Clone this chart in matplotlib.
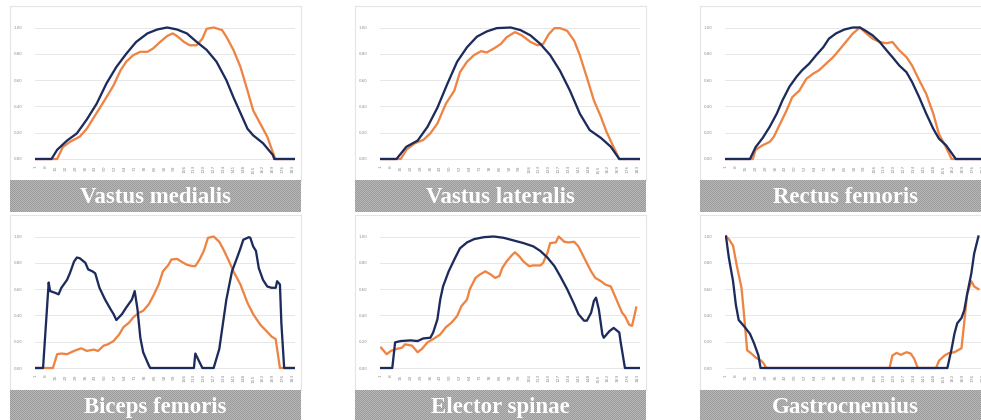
import numpy as np
import matplotlib
matplotlib.use("Agg")
import matplotlib.pyplot as plt

# ---------------------------------------------------------------- data
tick_values = list(range(1, 184, 7))
tick_labels = [str(v) for v in tick_values]
y_ticks = [0.0, 0.2, 0.4, 0.6, 0.8, 1.0]
y_tick_labels = ["0.00", "0.20", "0.40", "0.60", "0.80", "1.00"]

muscles = ["Vastus medialis", "Vastus lateralis", "Rectus femoris",
           "Biceps femoris", "Elector spinae", "Gastrocnemius"]

vm_blue_x = [1, 12, 16, 23, 30, 37, 44, 51, 58, 65, 72, 80, 87, 94, 101, 108, 115, 122, 129, 136, 141, 146, 151, 155, 162, 169, 170, 184]
vm_blue_y = [0, 0, 0.07, 0.14, 0.195, 0.30, 0.42, 0.575, 0.70, 0.80, 0.89, 0.955, 0.985, 1.0, 0.985, 0.955, 0.89, 0.83, 0.74, 0.60, 0.47, 0.35, 0.23, 0.18, 0.12, 0.03, 0, 0]
vm_orange_x = [1, 16, 20, 25, 32, 37, 44, 51, 56, 61, 65, 70, 75, 80, 84, 89, 94, 98, 101, 106, 110, 115, 119, 122, 127, 133, 136, 141, 146, 151, 155, 160, 165, 170, 171, 184]
vm_orange_y = [0, 0, 0.09, 0.13, 0.17, 0.23, 0.35, 0.47, 0.56, 0.675, 0.74, 0.79, 0.815, 0.815, 0.84, 0.89, 0.935, 0.955, 0.935, 0.89, 0.865, 0.865, 0.915, 0.99, 1.0, 0.98, 0.93, 0.83, 0.70, 0.52, 0.37, 0.27, 0.17, 0.02, 0, 0]

vl_blue_x = [1, 12, 19, 27, 34, 41, 48, 55, 62, 69, 76, 83, 93, 100, 107, 114, 121, 128, 135, 142, 149, 157, 164, 170, 184]
vl_blue_y = [0, 0, 0.093, 0.14, 0.245, 0.39, 0.57, 0.74, 0.85, 0.93, 0.97, 0.995, 1.0, 0.98, 0.94, 0.875, 0.79, 0.67, 0.52, 0.345, 0.22, 0.16, 0.093, 0, 0]
vl_orange_x = [1, 15, 19, 25, 31, 36, 41, 47, 53, 57, 62, 67, 72, 76, 81, 86, 90, 96, 101, 107, 112, 116, 120, 124, 128, 133, 138, 142, 147, 152, 157, 161, 166, 170, 184]
vl_orange_y = [0, 0, 0.07, 0.12, 0.145, 0.195, 0.27, 0.42, 0.52, 0.66, 0.74, 0.79, 0.82, 0.81, 0.84, 0.875, 0.925, 0.965, 0.94, 0.89, 0.865, 0.875, 0.95, 0.995, 0.995, 0.975, 0.90, 0.79, 0.62, 0.445, 0.32, 0.205, 0.09, 0, 0]

rf_blue_x = [1, 18, 22, 27, 32, 37, 41, 46, 51, 55, 60, 65, 70, 74, 79, 85, 91, 96, 100, 105, 110, 115, 119, 124, 129, 133, 138, 143, 148, 152, 157, 162, 164, 184]
rf_blue_y = [0, 0, 0.09, 0.16, 0.245, 0.345, 0.445, 0.55, 0.625, 0.675, 0.725, 0.79, 0.85, 0.915, 0.955, 0.985, 1.0, 1.0, 0.975, 0.94, 0.89, 0.825, 0.775, 0.71, 0.66, 0.585, 0.47, 0.345, 0.23, 0.155, 0.105, 0.03, 0, 0]
rf_orange_x = [1, 20, 22, 27, 32, 35, 39, 44, 48, 53, 58, 63, 67, 72, 77, 81, 86, 91, 96, 100, 105, 110, 115, 119, 124, 129, 133, 138, 143, 148, 152, 157, 161, 184]
rf_orange_y = [0, 0, 0.07, 0.105, 0.13, 0.17, 0.26, 0.37, 0.47, 0.52, 0.61, 0.65, 0.675, 0.725, 0.775, 0.825, 0.89, 0.955, 1.0, 0.96, 0.915, 0.89, 0.88, 0.89, 0.825, 0.775, 0.71, 0.60, 0.495, 0.345, 0.19, 0.09, 0, 0]

bf_blue_x = [1, 6, 10, 11, 15, 17, 19, 23, 25, 28, 30, 32, 36, 38, 41, 43, 46, 50, 54, 56, 58, 62, 65, 69, 71, 73, 75, 77, 81, 82, 113, 114, 119, 127, 131, 133, 136, 140, 144, 146, 148, 152, 153, 155, 157, 159, 162, 165, 168, 171, 172, 174, 175, 177, 184]
bf_blue_y = [0, 0, 0.65, 0.585, 0.57, 0.56, 0.61, 0.67, 0.72, 0.81, 0.84, 0.835, 0.80, 0.75, 0.735, 0.72, 0.61, 0.52, 0.445, 0.41, 0.365, 0.41, 0.46, 0.52, 0.585, 0.445, 0.23, 0.12, 0.02, 0, 0, 0.11, 0, 0, 0.145, 0.295, 0.52, 0.735, 0.85, 0.91, 0.975, 0.995, 0.99, 0.925, 0.89, 0.76, 0.67, 0.62, 0.61, 0.61, 0.66, 0.635, 0.345, 0, 0]
bf_orange_x = [1, 13, 16, 19, 23, 28, 33, 37, 42, 45, 49, 52, 56, 60, 63, 67, 70, 74, 77, 81, 84, 88, 91, 95, 97, 101, 104, 108, 112, 114, 117, 120, 123, 127, 131, 134, 138, 141, 146, 151, 155, 160, 165, 168, 171, 172, 174, 184]
bf_orange_y = [0, 0, 0.105, 0.11, 0.105, 0.13, 0.15, 0.13, 0.14, 0.13, 0.17, 0.18, 0.205, 0.255, 0.31, 0.345, 0.385, 0.42, 0.435, 0.485, 0.545, 0.635, 0.735, 0.785, 0.825, 0.83, 0.81, 0.785, 0.775, 0.775, 0.825, 0.89, 0.99, 1.0, 0.96, 0.90, 0.81, 0.735, 0.635, 0.495, 0.41, 0.33, 0.275, 0.24, 0.22, 0.145, 0, 0]

es_blue_x = [1, 9, 11, 15, 22, 27, 31, 36, 38, 41, 43, 45, 49, 53, 57, 62, 67, 74, 81, 88, 95, 102, 109, 114, 119, 124, 128, 133, 138, 141, 145, 147, 150, 152, 153.5, 155.5, 158, 159, 163, 166, 170, 171, 174, 184]
es_blue_y = [0, 0, 0.195, 0.205, 0.21, 0.205, 0.225, 0.23, 0.27, 0.37, 0.52, 0.62, 0.735, 0.825, 0.91, 0.955, 0.98, 0.995, 1.0, 0.99, 0.97, 0.95, 0.925, 0.89, 0.84, 0.775, 0.70, 0.60, 0.485, 0.41, 0.36, 0.36, 0.42, 0.51, 0.535, 0.445, 0.255, 0.23, 0.28, 0.305, 0.27, 0.195, 0, 0]
es_orange_x = [1, 5, 8, 12, 16, 18, 23, 27, 30, 34, 38, 43, 47, 51, 55, 58, 62, 64, 68, 71, 75, 79, 82, 85, 87, 90, 94, 96, 99, 102, 106, 109, 114, 116, 119, 121, 125, 127, 131, 134, 138, 141, 145, 150, 153, 157, 160, 164, 166, 170, 172, 174, 177, 179, 181, 182]
es_orange_y = [0.155, 0.105, 0.13, 0.145, 0.155, 0.18, 0.17, 0.12, 0.145, 0.195, 0.22, 0.255, 0.31, 0.345, 0.395, 0.47, 0.52, 0.60, 0.685, 0.71, 0.735, 0.71, 0.685, 0.70, 0.76, 0.81, 0.86, 0.88, 0.85, 0.81, 0.775, 0.78, 0.78, 0.80, 0.875, 0.95, 0.955, 1.0, 0.96, 0.955, 0.96, 0.925, 0.84, 0.735, 0.685, 0.66, 0.635, 0.62, 0.57, 0.47, 0.42, 0.395, 0.33, 0.32, 0.41, 0.46]

ga_blue_x = [1, 3, 6, 8, 10, 14, 18, 21, 24, 25.5, 158, 161, 163, 165, 168, 170, 172, 175, 177, 180]
ga_blue_y = [1.0, 0.84, 0.66, 0.48, 0.365, 0.315, 0.26, 0.185, 0.095, 0, 0, 0.145, 0.26, 0.34, 0.38, 0.44, 0.56, 0.72, 0.87, 1.0]
ga_orange_x = [1, 3, 6, 9, 12, 14, 16, 19, 22, 26, 28, 29.5, 117, 119, 122, 125, 129, 132, 134.5, 137, 150, 152, 156, 159, 163, 168, 170, 172, 175, 177, 180]
ga_orange_y = [1.0, 0.98, 0.93, 0.76, 0.61, 0.38, 0.135, 0.11, 0.08, 0.055, 0.03, 0, 0, 0.095, 0.115, 0.10, 0.12, 0.11, 0.07, 0, 0, 0.055, 0.095, 0.113, 0.12, 0.15, 0.35, 0.56, 0.66, 0.62, 0.60]

series = [
    (vm_blue_x, vm_blue_y, vm_orange_x, vm_orange_y),
    (vl_blue_x, vl_blue_y, vl_orange_x, vl_orange_y),
    (rf_blue_x, rf_blue_y, rf_orange_x, rf_orange_y),
    (bf_blue_x, bf_blue_y, bf_orange_x, bf_orange_y),
    (es_blue_x, es_blue_y, es_orange_x, es_orange_y),
    (ga_blue_x, ga_blue_y, ga_orange_x, ga_orange_y),
]

# ---------------------------------------------------------------- style
W, H = 981, 420
NAVY = "#1c2b5c"
ORANGE = "#ee8443"
GRID = "#e3e3e3"
LABEL = "#8e8e8e"

fig = plt.figure(figsize=(W / 100, H / 100), dpi=100)
fig.patch.set_facecolor("white")


def rect(left, top, width, height):
    return [left / W, 1 - (top + height) / H, width / W, height / H]


col_left = [10, 355, 700]
row_top = [6, 215]
box_w = 291
box_h = [174, 175]
banner_h = 32
ppu = 1.41            # pixels per sample
xlim = (0.3, 184.5)
ylim = (-0.03, 1.08)

# banner texture: fine grey checkerboard, placed pixel-for-pixel
jj, ii = np.indices((banner_h, box_w))
shade = np.where((ii + jj) % 2 == 0, 0.61, 0.72)
checker = np.dstack([shade, shade, shade])

for k, name in enumerate(muscles):
    r, c = divmod(k, 3)
    bl, bt, bh = col_left[c], row_top[r], box_h[r]

    # light frame around the chart
    frame = fig.add_axes(rect(bl, bt, box_w, bh))
    frame.set_xticks([])
    frame.set_yticks([])
    for s in frame.spines.values():
        s.set_color("#e4e4e4")
        s.set_linewidth(0.8)

    # plot area
    x0 = bl + 26
    y0 = bt + 153
    ypu = 153 - 21.5
    left = x0 + (xlim[0] - 1) * ppu
    width = (xlim[1] - xlim[0]) * ppu
    top = y0 - ylim[1] * ypu
    bottom = y0 - ylim[0] * ypu
    ax = fig.add_axes(rect(left, top, width, bottom - top))
    ax.patch.set_alpha(0)
    ax.set_xlim(*xlim)
    ax.set_ylim(*ylim)
    for s in ax.spines.values():
        s.set_visible(False)
    ax.set_yticks(y_ticks)
    ax.set_yticklabels(y_tick_labels, fontsize=2.8, color=LABEL)
    ax.set_xticks(tick_values)
    ax.set_xticklabels(tick_labels, fontsize=3.2, color=LABEL, rotation=90)
    ax.tick_params(axis="y", length=0, pad=9)
    ax.tick_params(axis="x", length=0, pad=1.5)
    ax.yaxis.grid(True, color=GRID, linewidth=0.6)
    ax.set_axisbelow(True)

    bx, by, ox, oy = series[k]
    ax.plot(bx, by, color=NAVY, linewidth=1.65, solid_joinstyle="round", zorder=3)
    ax.plot(ox, oy, color=ORANGE, linewidth=1.65, solid_joinstyle="round", zorder=2)

    # title banner
    fig.figimage(checker, xo=bl, yo=H - (bt + bh + banner_h), origin="upper", zorder=1)
    fig.text((bl + box_w / 2) / W, (H - (bt + bh + banner_h * 0.72)) / H, name,
             ha="center", va="baseline", color="white", fontsize=16.5,
             fontweight="bold", family="Liberation Serif", zorder=5)

fig.savefig("out.png", dpi=100, facecolor="white")
